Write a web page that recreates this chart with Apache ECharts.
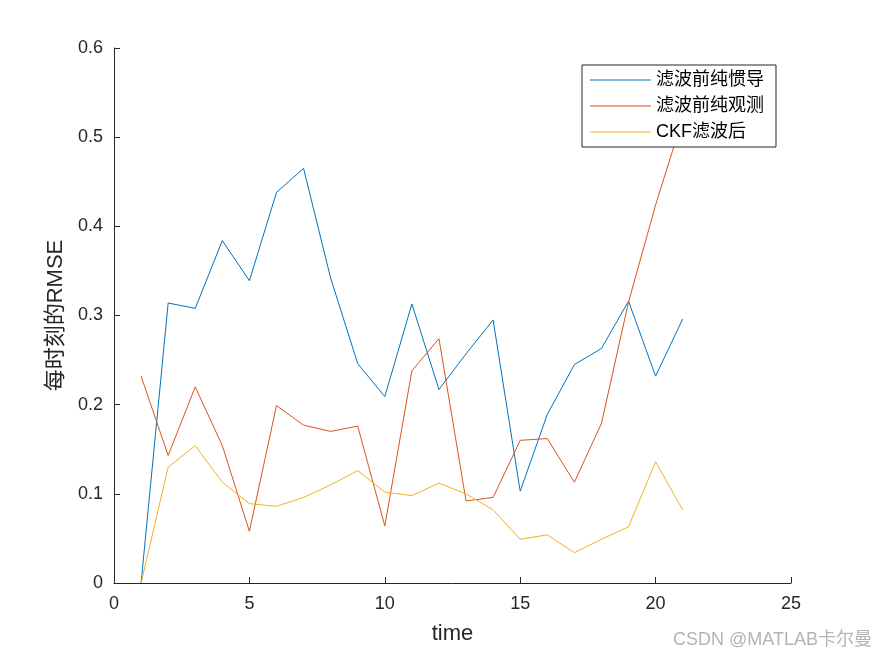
<!DOCTYPE html>
<html>
<head>
<meta charset="utf-8">
<script src="https://cdn.jsdelivr.net/npm/echarts@6/dist/echarts.min.js"></script>
<style>
html,body{margin:0;padding:0;background:#fff;}
#chart{width:875px;height:656px;}
</style>
</head>
<body>
<div id="chart"></div>
<script>
const timeSteps = [1,2,3,4,5,6,7,8,9,10,11,12,13,14,15,16,17,18,19,20,21];
const seriesNames = ['滤波前纯惯导', '滤波前纯观测', 'CKF滤波后'];
const inertialRmse = [0, 0.314, 0.308, 0.384, 0.339, 0.438, 0.465, 0.342, 0.246, 0.209, 0.313, 0.217, 0.257, 0.295, 0.103, 0.189, 0.245, 0.263, 0.316, 0.232, 0.296];
const observeRmse = [0.232, 0.143, 0.220, 0.154, 0.058, 0.199, 0.177, 0.170, 0.176, 0.064, 0.238, 0.274, 0.092, 0.096, 0.160, 0.162, 0.113, 0.179, 0.315, 0.424, 0.521];
const ckfRmse = [0, 0.130, 0.154, 0.113, 0.089, 0.086, 0.096, 0.110, 0.126, 0.102, 0.098, 0.112, 0.100, 0.082, 0.049, 0.054, 0.034, 0.049, 0.063, 0.136, 0.082];
const xTicks = {min: 0, max: 25, interval: 5};
const yTicks = {min: 0, max: 0.6, interval: 0.1};

const colors = ['#0072BD', '#D95319', '#EDB120'];
const valuesList = [inertialRmse, observeRmse, ckfRmse];

const chart = echarts.init(document.getElementById('chart'));
const axisColor = '#262626';
const fontFam = 'Liberation Sans, Arial, Noto Sans CJK SC, sans-serif';

chart.setOption({
  animation: false,
  color: colors,
  textStyle: {fontFamily: fontFam},
  grid: {left: 114, right: 84, top: 48, bottom: 73},
  legend: {
    orient: 'vertical',
    left: 582, top: 65,
    padding: [5, 12, 5, 8],
    itemGap: 6,
    itemWidth: 61,
    itemHeight: 1,
    icon: 'rect',
    backgroundColor: '#fff',
    borderColor: axisColor,
    borderWidth: 1,
    borderRadius: 0,
    data: seriesNames,
    textStyle: {fontSize: 18, color: '#000', lineHeight: 20, fontFamily: fontFam}
  },
  xAxis: {
    type: 'value',
    min: xTicks.min, max: xTicks.max, interval: xTicks.interval,
    name: 'time',
    nameLocation: 'middle',
    nameGap: 40,
    nameTextStyle: {fontSize: 22, color: axisColor},
    axisLine: {onZero: false, lineStyle: {color: axisColor, width: 1}},
    axisTick: {inside: true, length: 6, lineStyle: {color: axisColor}},
    axisLabel: {fontSize: 18, color: axisColor, margin: 12},
    splitLine: {show: false}
  },
  yAxis: {
    type: 'value',
    min: yTicks.min, max: yTicks.max, interval: yTicks.interval,
    name: '每时刻的RMSE',
    nameLocation: 'middle',
    nameGap: 44,
    nameTextStyle: {fontSize: 22, color: axisColor},
    axisLine: {show: true, onZero: false, lineStyle: {color: axisColor, width: 1}},
    axisTick: {show: true, inside: true, length: 6, lineStyle: {color: axisColor}},
    axisLabel: {fontSize: 18, color: axisColor, margin: 11},
    splitLine: {show: false}
  },
  series: seriesNames.map((n, i) => ({
    name: n,
    type: 'line',
    data: timeSteps.map((t, j) => [t, valuesList[i][j]]),
    showSymbol: false,
    symbol: 'none',
    lineStyle: {width: 1, color: colors[i]},
    itemStyle: {color: colors[i]},
    z: 2
  })),
  graphic: [{
    type: 'text',
    right: 3, top: 631,
    style: {text: 'CSDN @MATLAB卡尔曼', fontSize: 18, fill: '#b4b4b4', fontFamily: fontFam}
  }]
});
</script>
</body>
</html>
